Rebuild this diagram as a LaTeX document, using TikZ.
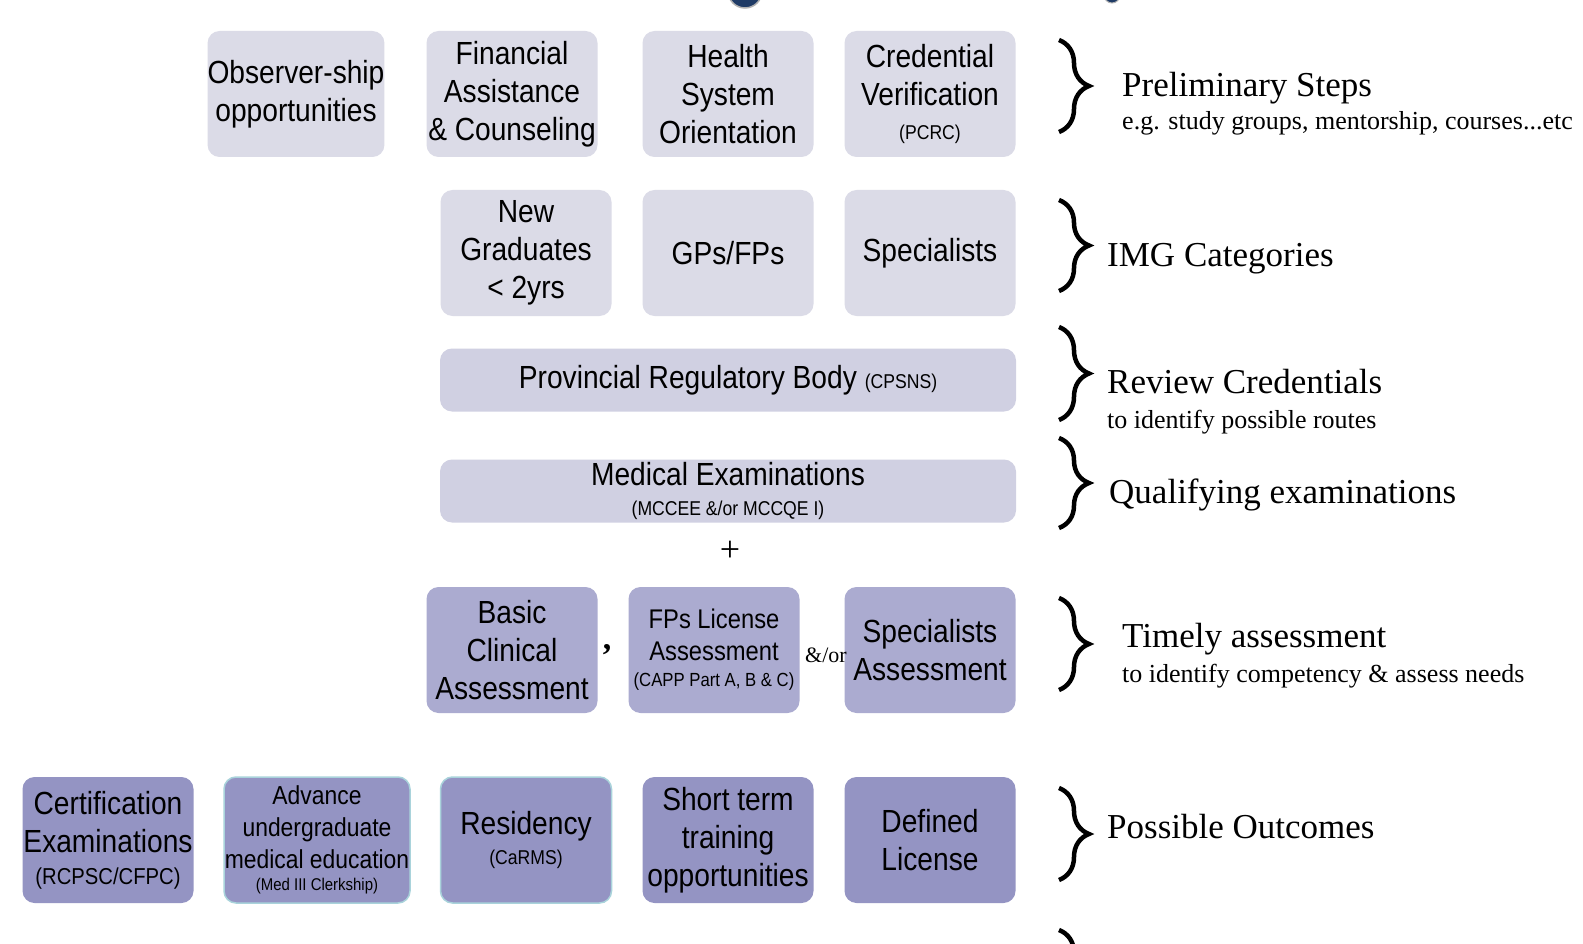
\documentclass[tikz,border=0pt]{standalone}
\usepackage{fontspec}
\setmainfont{Liberation Serif}
\newfontfamily\boxfont[FakeStretch=0.88]{Liberation Sans}
\usetikzlibrary{decorations.pathreplacing}
\definecolor{prelimgray}{HTML}{DBDBE7}
\definecolor{reviewgray}{HTML}{D0D0E2}
\definecolor{assessblue}{HTML}{ABABD0}
\definecolor{outcomeblue}{HTML}{9494C3}
\definecolor{rimcyan}{HTML}{A9D3DB}
\definecolor{dotnavy}{HTML}{1F3B66}

\tikzset{
  stepbox/.style={rounded corners=12pt, inner sep=0pt, align=center,
    minimum width=171pt, minimum height=126pt,
    font=\boxfont\fontsize{32}{38}\selectfont},
  widebox/.style={stepbox, minimum width=576pt, minimum height=63pt},
  prelimbox/.style={stepbox, fill=prelimgray},
  reviewbox/.style={widebox, fill=reviewgray},
  assessbox/.style={stepbox, fill=assessblue},
  outcomebox/.style={stepbox, fill=outcomeblue},
  stagebrace/.style={decorate, decoration={brace, amplitude=30pt}, line width=4.5pt},
  stagetitle/.style={anchor=base west, inner sep=0pt, font=\fontsize{35}{40}\selectfont},
  stagenote/.style={anchor=base west, inner sep=0pt, font=\fontsize{26}{30}\selectfont},
}
\newcommand{\smalltxt}[1]{{\fontsize{20}{24}\selectfont #1}}

\begin{document}
\begin{tikzpicture}[x=1pt, y=-1pt]
  \clip (0,0) rectangle (1583,944);
  \fill[white] (0,0) rectangle (1583,944);

  % fragments cut off at the top edge
  \fill[dotnavy, draw=gray!60, line width=1.5pt] (745,-9) circle (17);
  \fill[dotnavy, draw=gray!60, line width=1pt] (1112,-5) circle (8);

  % preliminary steps
  \node[prelimbox] (observer) at (296,94) {Observer-ship\\opportunities};
  \node[prelimbox] (finance) at (512,94) {Financial\\Assistance\\\& Counseling};
  \node[prelimbox] (health) at (728,94) {Health\\System\\Orientation};
  \node[prelimbox] (cred) at (930,94) {Credential\\Verification\\[-4pt]\smalltxt{(PCRC)}};

  % IMG categories
  \node[prelimbox] (newgrad) at (526,253) {New\\Graduates\\< 2yrs};
  \node[prelimbox] (gpfp) at (728,253) {GPs/FPs};
  \node[prelimbox] (spec) at (930,253) {Specialists};

  % review and examinations
  \node[reviewbox] (prb) at (728,380) {Provincial Regulatory Body \smalltxt{(CPSNS)}};
  \node[reviewbox] (medex) at (728,491)
    {Medical Examinations\\[-8pt]\smalltxt{(MCCEE \&/or MCCQE I)}};
  \node[font=\fontsize{36}{40}\selectfont] (plus) at (730,551) {+};

  % timely assessment
  \node[assessbox] (basic) at (512,650) {Basic\\Clinical\\Assessment};
  \node[assessbox, font=\boxfont\fontsize{27}{32}\selectfont] (fplic) at (714,650)
    {FPs License\\Assessment\\[-6pt]{\fontsize{19}{22}\selectfont(CAPP Part A, B \& C)}};
  \node[assessbox] (specas) at (930,650) {Specialists\\Assessment};
  \node[font=\bfseries\fontsize{34}{36}\selectfont] (comma) at (607,650) {,};
  \node[font=\fontsize{22}{26}\selectfont, inner sep=0pt] (andor) at (826,655) {\&/or};

  % possible outcomes
  \node[outcomebox] (certif) at (108,840)
    {Certification\\Examinations\\[-6pt]{\fontsize{23}{26}\selectfont(RCPSC/CFPC)}};
  \node[outcomebox, minimum width=186pt, draw=rimcyan, line width=1.5pt,
    font=\boxfont\fontsize{26}{32}\selectfont] (ugme) at (317,840)
    {Advance\\undergraduate\\medical education\\[-10pt]{\fontsize{17}{20}\selectfont(Med III Clerkship)}};
  \node[outcomebox, draw=rimcyan, line width=1.5pt] (resid) at (526,840)
    {Residency\\[-8pt]\smalltxt{(CaRMS)}};
  \node[outcomebox] (short) at (728,840) {Short term\\training\\opportunities};
  \node[outcomebox] (deflic) at (930,840) {Defined\\License};

  % braces
  \foreach \ytop/\ybot in {40/132, 200/291, 327/420, 438/528, 598/690, 788/880, 930/1022}
    \draw[stagebrace] (1059,\ytop) -- (1059,\ybot);

  % stage labels
  \node[stagetitle] (prelim) at (1122,97) {Preliminary Steps};
  \node[stagenote] (prelimnote) at (1122,130) {e.g. study groups, mentorship, courses...etc};
  \node[stagetitle] (imgcat) at (1107,267) {IMG Categories};
  \node[stagetitle] (review) at (1107,393) {Review Credentials};
  \node[stagenote] (reviewnote) at (1107,428) {to identify possible routes};
  \node[stagetitle] (qualify) at (1109,503) {Qualifying examinations};
  \node[stagetitle] (timely) at (1122,647) {Timely assessment};
  \node[stagenote] (timelynote) at (1122,682) {to identify competency \& assess needs};
  \node[stagetitle] (outcome) at (1107,838) {Possible Outcomes};
\end{tikzpicture}
\end{document}
